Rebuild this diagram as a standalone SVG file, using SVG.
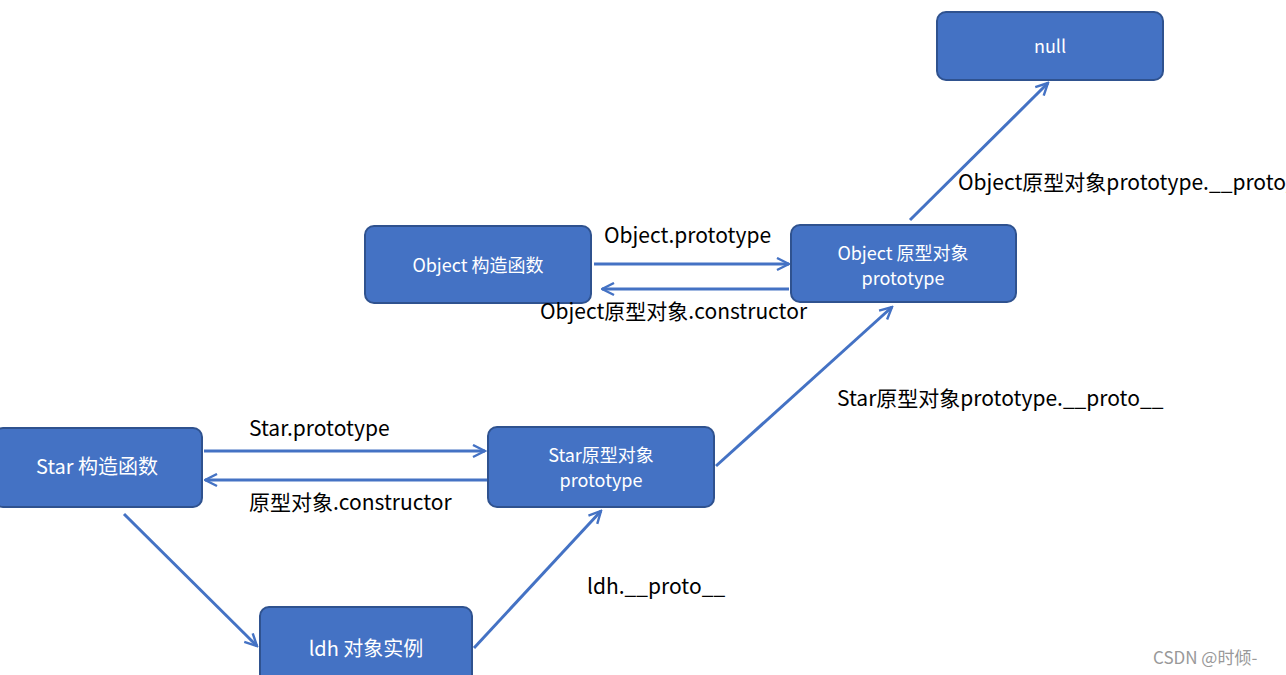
<svg xmlns="http://www.w3.org/2000/svg" width="1286" height="675" viewBox="0 0 1286 675">
<style>
.n{fill:#4472C4;stroke:#2F528F;stroke-width:2}
.t{fill:#fff;font-family:"Noto Sans CJK SC","Noto Sans",sans-serif;font-size:18px;text-anchor:middle}
.l{fill:#000;font-family:"Noto Sans CJK SC","Noto Sans",sans-serif;font-size:21px}
.c{stroke:#4472C4;stroke-width:3;fill:none;marker-end:url(#a)}
</style>
<defs><marker id="a" viewBox="0 0 10 10" refX="9" refY="5" markerWidth="5" markerHeight="5" orient="auto" markerUnits="strokeWidth"><path d="M1,1 L9,5 L1,9" fill="none" stroke="#4472C4" stroke-width="1.6"/></marker></defs>
<rect width="1286" height="675" fill="#fff"/>
<g id="connectors">
<line class="c" x1="910" y1="220" x2="1048" y2="83"/>
<line class="c" x1="594" y1="264" x2="789" y2="264"/>
<line class="c" x1="789" y1="289" x2="602" y2="289"/>
<line class="c" x1="716" y1="466" x2="892" y2="307"/>
<line class="c" x1="204" y1="451" x2="485" y2="451"/>
<line class="c" x1="487" y1="480" x2="205" y2="480"/>
<line class="c" x1="124" y1="514" x2="257" y2="646"/>
<line class="c" x1="474" y1="648" x2="601" y2="511"/>
</g>
<g id="null"><rect class="n" x="937" y="12" width="226" height="68" rx="9"/><text class="t" x="1050" y="53">null</text></g>
<g id="objctor"><rect class="n" x="365" y="226" width="226" height="77" rx="9"/><text class="t" x="478" y="272">Object 构造函数</text></g>
<g id="objproto"><rect class="n" x="791" y="225" width="225" height="77" rx="9"/><text class="t" x="903" y="260">Object 原型对象</text><text class="t" x="903" y="285">prototype</text></g>
<g id="starctor"><rect class="n" x="-6" y="428" width="208" height="79" rx="9"/><text class="t" x="97" y="474" style="font-size:20px">Star 构造函数</text></g>
<g id="starproto"><rect class="n" x="488" y="427" width="226" height="80" rx="9"/><text class="t" x="601" y="462">Star原型对象</text><text class="t" x="601" y="487">prototype</text></g>
<g id="ldh"><rect class="n" x="260" y="607" width="212" height="80" rx="9"/><text class="t" x="366" y="656" style="font-size:20px">ldh 对象实例</text></g>
<g id="labels">
<text class="l" x="958" y="190">Object原型对象prototype.__proto__</text>
<text class="l" x="604" y="243">Object.prototype</text>
<text class="l" x="540" y="319">Object原型对象.constructor</text>
<text class="l" x="837" y="406">Star原型对象prototype.__proto__</text>
<text class="l" x="249" y="436">Star.prototype</text>
<text class="l" x="249" y="510">原型对象.constructor</text>
<text class="l" x="587" y="594">ldh.__proto__</text>
<text x="1153" y="664" style="fill:#999;font-family:'Noto Sans CJK SC',sans-serif;font-size:17px">CSDN @时倾-</text>
</g>
</svg>
